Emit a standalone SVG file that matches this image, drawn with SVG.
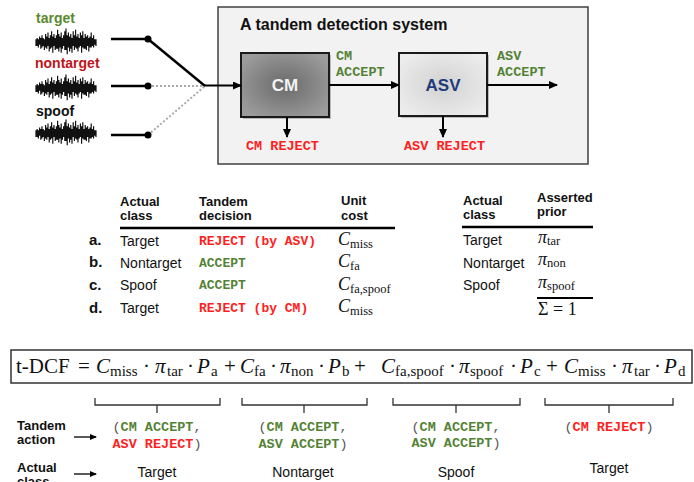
<svg xmlns="http://www.w3.org/2000/svg" width="694" height="482" viewBox="0 0 694 482">
<style>
.sans{font-family:"Liberation Sans",Arial,sans-serif}
.b{font-weight:bold}
.mono{font-family:"Liberation Mono","Courier New",monospace;font-weight:bold}
.g{fill:#548235}
.r{fill:#ff2020}
.p{fill:#555555;font-weight:normal}
.ser{font-family:"Liberation Serif","Times New Roman",serif}
.it{font-style:italic}
.hd{font-family:"Liberation Sans",Arial,sans-serif;font-weight:bold;font-size:13px;fill:#111}
.rw{font-family:"Liberation Sans",Arial,sans-serif;font-size:14px;fill:#111}
.ln{stroke:#000;stroke-width:2;fill:none}
.br{stroke:#333;stroke-width:1.3;fill:none}
</style>
<defs>
<marker id="ah" markerUnits="userSpaceOnUse" markerWidth="9" markerHeight="8" refX="8" refY="4" orient="auto"><path d="M0,0 L9,4 L0,8 z" fill="#000"/></marker>
<marker id="ahs" markerUnits="userSpaceOnUse" markerWidth="7" markerHeight="6" refX="6" refY="3" orient="auto"><path d="M0,0 L7,3 L0,6 z" fill="#000"/></marker>
<radialGradient id="gcm" cx="0.5" cy="0.5" r="0.6"><stop offset="0" stop-color="#6a6a6a"/><stop offset="1" stop-color="#9c9c9c"/></radialGradient>
<radialGradient id="gasv" cx="0.5" cy="0.5" r="0.6"><stop offset="0" stop-color="#d2d2d2"/><stop offset="1" stop-color="#ececec"/></radialGradient>
<g id="wave" transform="scale(1,1.35)">
<path d="M0 0H60" stroke="#222" stroke-width="1.4"/>
<path stroke="#111" stroke-width="1.2" d="M0 -2V3M1.2 -3V3M2.4 -2V4M3.6 -4V2M4.8 -3V5M6 -5V4M7.2 -3V3M8.4 -2V6M9.6 -6V4M10.8 -4V5M12 -7V3M13.2 -3V7M14.4 -5V5M15.6 -8V4M16.8 -4V8M18 -6V3M19.2 -3V6M20.4 -5V5M21.6 -9V5M22.8 -6V7M24 -4V4M25.2 -7V8M26.4 -3V5M27.6 -5V3M28.8 -8V6M30 -10V6M31.2 -5V9M32.4 -7V4M33.6 -4V7M34.8 -6V5M36 -3V8M37.2 -8V3M38.4 -5V6M39.6 -9V4M40.8 -4V5M42 -6V7M43.2 -3V4M44.4 -7V3M45.6 -5V8M46.8 -8V4M48 -3V5M49.2 -6V5M50.4 -4V6M51.6 -5V3M52.8 -3V7M54 -4V4M55.2 -7V4M56.4 -3V3M57.6 -5V4M58.8 -2V2M60 -2V3"/>
</g>
</defs>

<!-- inputs -->
<g id="in-target">
<text x="36" y="23" class="sans b" font-size="14" fill="#5a8a2e">target</text>
<use href="#wave" transform="translate(36,42)"/>
</g>
<g id="in-nontarget">
<text x="35" y="68" class="sans b" font-size="14" fill="#c0141b">nontarget</text>
<use href="#wave" transform="translate(36,88)"/>
</g>
<g id="in-spoof">
<text x="36" y="116" class="sans b" font-size="14" fill="#111">spoof</text>
<use href="#wave" transform="translate(36,133)"/>
</g>

<!-- system box -->
<g id="system">
<rect x="218" y="7" width="370" height="157" fill="#f2f2f2" stroke="#404040" stroke-width="1.5"/>
<text x="240" y="30" class="sans b" font-size="16" fill="#111">A tandem detection system</text>
</g>
<g id="cm">
<rect x="243" y="55" width="88" height="64" fill="#555" opacity="0.35"/>
<rect x="241" y="53" width="88" height="64" fill="url(#gcm)" stroke="#1a1a1a" stroke-width="2"/>
<text x="285" y="91" text-anchor="middle" class="sans b" font-size="17" fill="#f2f2f2">CM</text>
</g>
<g id="asv">
<rect x="401" y="55" width="88" height="63" fill="#555" opacity="0.35"/>
<rect x="399" y="53" width="88" height="63" fill="url(#gasv)" stroke="#1a1a1a" stroke-width="2"/>
<text x="443" y="91" text-anchor="middle" class="sans b" font-size="17" fill="#1f3a7a">ASV</text>
</g>
<g id="labels-system" class="mono" font-size="13.5">
<text x="336" y="60" class="g">CM</text>
<text x="336" y="76" class="g">ACCEPT</text>
<text x="497" y="60" class="g">ASV</text>
<text x="497" y="76" class="g">ACCEPT</text>
<text x="246" y="150" class="r">CM REJECT</text>
<text x="404" y="150" class="r">ASV REJECT</text>
</g>

<!-- connectors -->
<g id="connectors">
<path d="M111 39H148M111 86H148M111 135H148" stroke="#000" stroke-width="2.5"/>
<path d="M148 39L205 86" stroke="#000" stroke-width="2.5"/>
<path d="M148 86H205M148 135L205 86" stroke="#aaa" stroke-width="2" stroke-dasharray="2,2"/>
<circle cx="148" cy="39" r="3.5" fill="#000"/>
<circle cx="148" cy="86" r="3.5" fill="#000"/>
<circle cx="148" cy="135" r="3.5" fill="#000"/>
<path d="M204 85.5H241" class="ln" marker-end="url(#ah)"/>
<path d="M329 85H399" class="ln" marker-end="url(#ah)"/>
<path d="M487 85H557" class="ln" marker-end="url(#ah)"/>
<path d="M287 117V137" class="ln" marker-end="url(#ah)"/>
<path d="M443 116V137" class="ln" marker-end="url(#ah)"/>
<path d="M74 437H96" stroke="#000" stroke-width="1.3" marker-end="url(#ahs)"/>
<path d="M74 474H96" stroke="#000" stroke-width="1.3" marker-end="url(#ahs)"/>
</g>

<!-- cost table -->
<g id="cost-table">
<text x="120" y="206" class="hd">Actual</text>
<text x="120" y="220" class="hd">class</text>
<text x="199" y="206" class="hd">Tandem</text>
<text x="199" y="220" class="hd">decision</text>
<text x="341" y="205" class="hd">Unit</text>
<text x="341" y="220" class="hd">cost</text>
<path d="M120 228H395" stroke="#000" stroke-width="2.5"/>
<g class="sans b" font-size="15" fill="#111">
<text x="89" y="245">a.</text>
<text x="89" y="267">b.</text>
<text x="89" y="290">c.</text>
<text x="89" y="313">d.</text>
</g>
<text x="120" y="246" class="rw">Target</text>
<text x="120" y="268" class="rw">Nontarget</text>
<text x="120" y="290" class="rw">Spoof</text>
<text x="120" y="313" class="rw">Target</text>
<g class="mono" font-size="13">
<text x="199" y="245" class="r">REJECT (by ASV)</text>
<text x="199" y="267" class="g">ACCEPT</text>
<text x="199" y="289" class="g">ACCEPT</text>
<text x="199" y="312" class="r">REJECT (by CM)</text>
</g>
<g class="ser" fill="#111">
<text x="338" y="245" font-size="18"><tspan class="it">C</tspan><tspan font-size="12.5" dy="3">miss</tspan></text>
<text x="338" y="267" font-size="18"><tspan class="it">C</tspan><tspan font-size="12.5" dy="3">fa</tspan></text>
<text x="338" y="290" font-size="18"><tspan class="it">C</tspan><tspan font-size="12.5" dy="3">fa,spoof</tspan></text>
<text x="338" y="312" font-size="18"><tspan class="it">C</tspan><tspan font-size="12.5" dy="3">miss</tspan></text>
</g>
</g>

<!-- prior table -->
<g id="prior-table">
<text x="463" y="205" class="hd">Actual</text>
<text x="463" y="219" class="hd">class</text>
<text x="537" y="202" class="hd">Asserted</text>
<text x="537" y="216" class="hd">prior</text>
<path d="M462 227H593" stroke="#000" stroke-width="2.5"/>
<text x="463" y="245" class="rw">Target</text>
<text x="463" y="268" class="rw">Nontarget</text>
<text x="463" y="290" class="rw">Spoof</text>
<g class="ser" fill="#111">
<text x="538" y="243" font-size="18"><tspan class="it">π</tspan><tspan font-size="12.5" dy="2">tar</tspan></text>
<text x="538" y="265" font-size="18"><tspan class="it">π</tspan><tspan font-size="12.5" dy="2">non</tspan></text>
<text x="538" y="288" font-size="18"><tspan class="it">π</tspan><tspan font-size="12.5" dy="2">spoof</tspan></text>
<text x="538" y="315" font-size="18">Σ = 1</text>
</g>
<path d="M537 298H593" stroke="#000" stroke-width="2"/>
</g>

<!-- formula -->
<g id="formula">
<rect x="11" y="350" width="681" height="33" fill="#fff" stroke="#333" stroke-width="1.5"/>
<g class="ser" font-size="21" fill="#111">
<text x="16" y="373">t-DCF</text>
<text x="78" y="373">=</text>
<text x="96" y="373" class="it">C</text><text x="110" y="376" font-size="15">miss</text>
<text x="143" y="373">·</text>
<text x="155" y="373" class="it">π</text><text x="167" y="376" font-size="15">tar</text>
<text x="187" y="373">·</text>
<text x="197" y="373" class="it">P</text><text x="211" y="376" font-size="15">a</text>
<text x="224" y="373">+</text>
<text x="240" y="373" class="it">C</text><text x="254" y="376" font-size="15">fa</text>
<text x="270" y="373">·</text>
<text x="280" y="373" class="it">π</text><text x="291" y="376" font-size="15">non</text>
<text x="318" y="373">·</text>
<text x="328" y="373" class="it">P</text><text x="342" y="376" font-size="15">b</text>
<text x="354" y="373">+</text>
<text x="381" y="373" class="it">C</text><text x="395" y="376" font-size="15">fa,spoof</text>
<text x="449" y="373">·</text>
<text x="459" y="373" class="it">π</text><text x="470" y="376" font-size="15">spoof</text>
<text x="510" y="373">·</text>
<text x="520" y="373" class="it">P</text><text x="534" y="376" font-size="15">c</text>
<text x="546" y="373">+</text>
<text x="564" y="373" class="it">C</text><text x="578" y="376" font-size="15">miss</text>
<text x="611" y="373">·</text>
<text x="622" y="373" class="it">π</text><text x="634" y="376" font-size="15">tar</text>
<text x="654" y="373">·</text>
<text x="664" y="373" class="it">P</text><text x="678" y="376" font-size="15">d</text>
</g>
</g>

<!-- brackets -->
<g id="brackets">
<path class="br" d="M95 398V405H220V398M157 405V413"/>
<path class="br" d="M242 398V405H367V398M304 405V413"/>
<path class="br" d="M393 398V405H520V398M456 405V413"/>
<path class="br" d="M545 398V405H673V398M609 405V413"/>
</g>

<!-- bottom rows -->
<g id="row-labels" class="sans b" font-size="13" fill="#111">
<text x="17" y="430">Tandem</text>
<text x="17" y="444">action</text>
<text x="17" y="472">Actual</text>
<text x="17" y="486">class</text>
</g>
<g id="actions" class="mono" font-size="13.5" text-anchor="middle">
<text x="157" y="431"><tspan class="p">(</tspan><tspan class="g">CM ACCEPT</tspan><tspan class="p">,</tspan></text>
<text x="157" y="448"><tspan class="r">ASV REJECT</tspan><tspan class="p">)</tspan></text>
<text x="303" y="431"><tspan class="p">(</tspan><tspan class="g">CM ACCEPT</tspan><tspan class="p">,</tspan></text>
<text x="303" y="448"><tspan class="g">ASV ACCEPT</tspan><tspan class="p">)</tspan></text>
<text x="456" y="431"><tspan class="p">(</tspan><tspan class="g">CM ACCEPT</tspan><tspan class="p">,</tspan></text>
<text x="456" y="447"><tspan class="g">ASV ACCEPT</tspan><tspan class="p">)</tspan></text>
<text x="609" y="431"><tspan class="p">(</tspan><tspan class="r">CM REJECT</tspan><tspan class="p">)</tspan></text>
</g>
<g id="classes" class="sans" font-size="14" fill="#111" text-anchor="middle">
<text x="157" y="477">Target</text>
<text x="303" y="477">Nontarget</text>
<text x="456" y="477">Spoof</text>
<text x="609" y="473">Target</text>
</g>
</svg>
